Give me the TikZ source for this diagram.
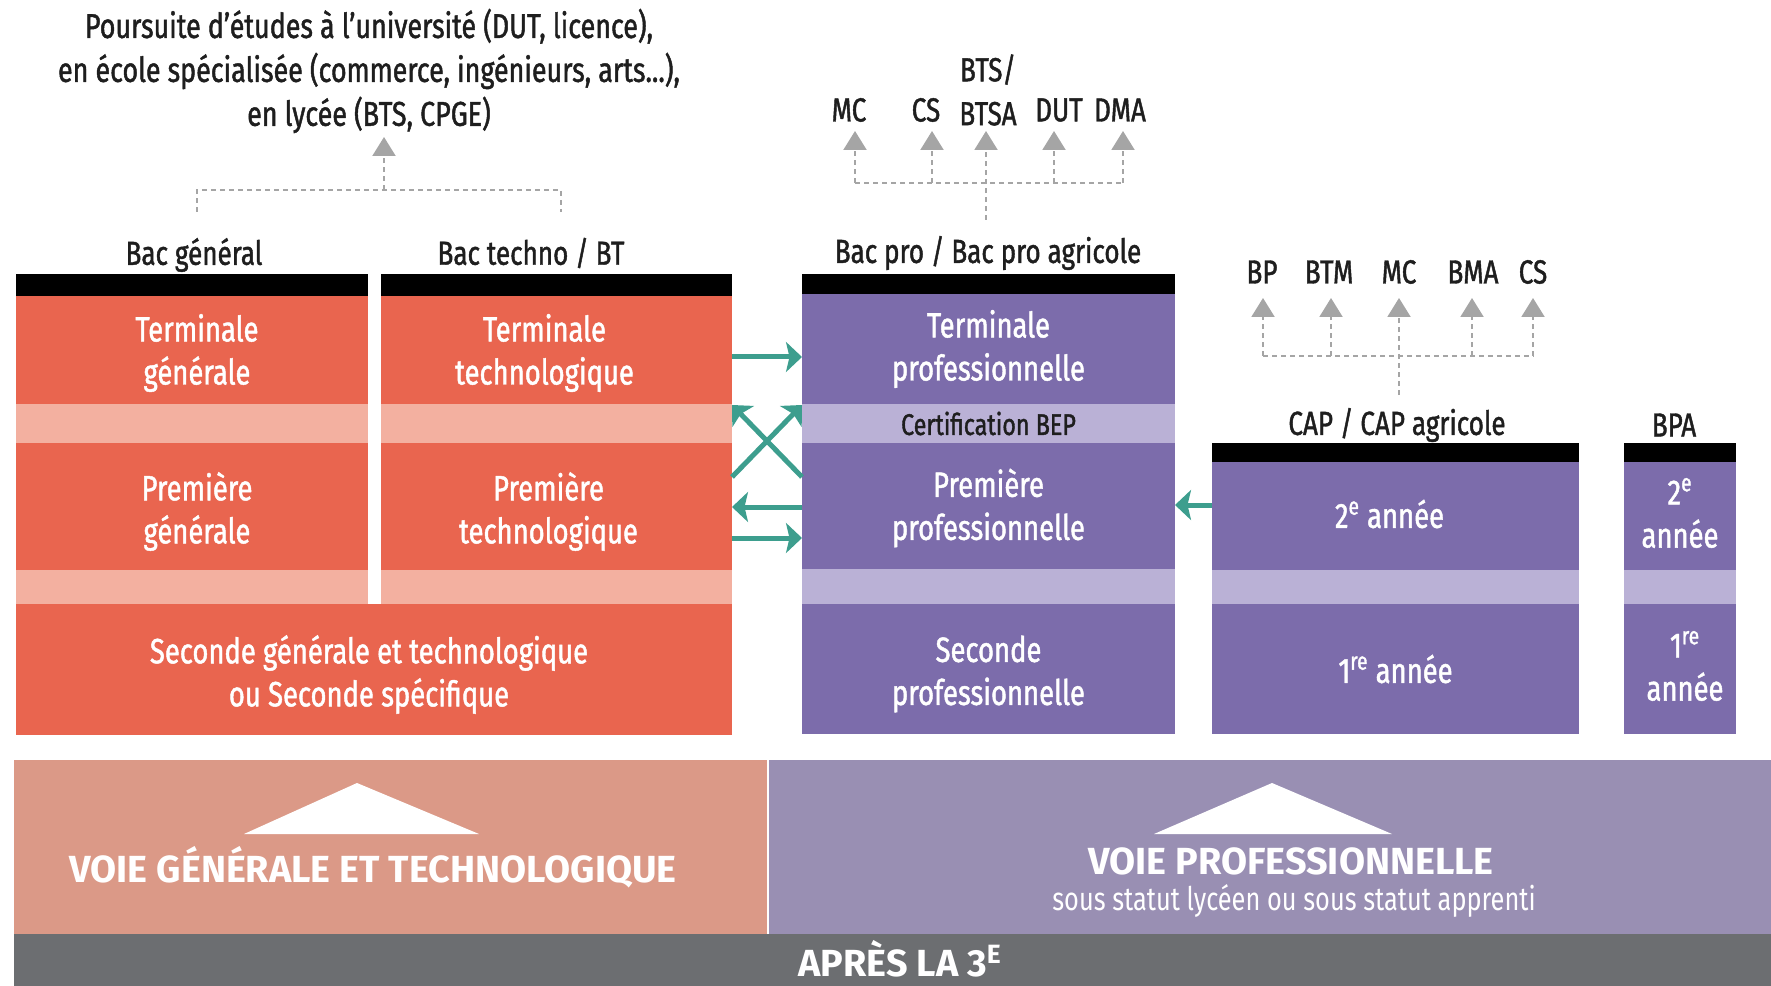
\documentclass[tikz,border=0pt]{standalone}
\usepackage{fontspec}
\setmainfont{Fira Sans}[FakeStretch=0.78]
\newfontfamily\medfont{Fira Sans}[FakeStretch=0.78,FakeBold=1.3]
\newfontfamily\capsfont{Fira Sans}
\usetikzlibrary{arrows.meta,fit,calc}
\definecolor{redA}{RGB}{233,101,79}
\definecolor{redL}{RGB}{243,176,160}
\definecolor{purA}{RGB}{124,108,171}
\definecolor{purL}{RGB}{186,177,214}
\definecolor{botR}{RGB}{219,153,135}
\definecolor{botP}{RGB}{153,143,179}
\definecolor{botG}{RGB}{108,110,113}
\definecolor{teal}{RGB}{61,158,142}
\definecolor{gdash}{RGB}{165,165,165}
\definecolor{ink}{RGB}{30,30,30}
\tikzset{
  box/.style={inner sep=0pt, outer sep=0pt, draw=none},
  txt/.style={inner sep=0pt, align=center, text=white,
    font=\medfont\fontsize{20}{24.5}\selectfont},
  bar/.style={inner sep=0pt, outer sep=0pt, draw=none, fill=black},
  lab/.style={inner sep=0pt, text=ink, align=center, font=\medfont\fontsize{19}{25}\selectfont},
  tree/.style={draw=gdash, line width=1.2pt, dash pattern=on 0.1cm off 0.08cm},
  treearr/.style={tree, -{Triangle[width=0.46cm,length=0.38cm]}},
  tarr/.style={draw=teal, line width=0.1cm, -{Stealth[width=0.6cm,length=0.32cm,inset=0.07cm]}},
  capst/.style={text=white, font=\capsfont\bfseries\fontsize{21.5}{24}\selectfont},
}
\begin{document}
\begin{tikzpicture}[x=0.02cm,y=-0.02cm]
\useasboundingbox (0,0) rectangle (1771,986);

% ---------- general / techno columns ----------
\node[bar, fit={(16,274) (368,296)}] (barG) {};
\node[bar, fit={(381,274) (732,296)}] (barT) {};
\node[box, fill=redA, fit={(16,296) (368,404)}] (tg) {};
\node[box, fill=redA, fit={(381,296) (732,404)}] (tt) {};
\node[box, fill=redL, fit={(16,404) (368,443)}] (sg1) {};
\node[box, fill=redL, fit={(381,404) (732,443)}] (st1) {};
\node[box, fill=redA, fit={(16,443) (368,570)}] (pg) {};
\node[box, fill=redA, fit={(381,443) (732,570)}] (ptech) {};
\node[box, fill=redL, fit={(16,570) (368,604)}] (sg2) {};
\node[box, fill=redL, fit={(381,570) (732,604)}] (st2) {};
\node[box, fill=redA, fit={(16,604) (732,735)}] (sec) {};
\node[txt] (tgT) at ($(tg.center)+(5,3)$) {Terminale\\générale};
\node[txt] (ttT) at ($(tt.center)+(-12,3)$) {Terminale\\technologique};
\node[txt] (pgT) at ($(pg.center)+(5,5)$) {Première\\générale};
\node[txt] (ptT) at ($(ptech.center)+(-8,5)$) {Première\\technologique};
\node[txt] (secT) at ($(sec.center)+(-5,5)$) {Seconde générale et technologique\\ou Seconde spécifique};

% ---------- bac pro ----------
\node[bar, fit={(802,274) (1175,294)}] (barP) {};
\node[box, fill=purA, fit={(802,294) (1175,404)}] (tp) {};
\node[box, fill=purL, fit={(802,404) (1175,443)}] (bep) {};
\node[box, fill=purA, fit={(802,443) (1175,569)}] (pp) {};
\node[box, fill=purL, fit={(802,569) (1175,604)}] (sp2) {};
\node[box, fill=purA, fit={(802,604) (1175,734)}] (sp) {};
\node[txt] (tpT) at (tp.center) {Terminale\\professionnelle};
\node[txt, text=ink, font=\medfont\fontsize{17}{20}\selectfont] (bepT) at (bep.center) {Certification BEP};
\node[txt] (ppT) at ($(pp.center)+(0,2)$) {Première\\professionnelle};
\node[txt] (spT) at ($(sp.center)+(0,5)$) {Seconde\\professionnelle};

% ---------- CAP ----------
\node[bar, fit={(1212,443) (1579,462)}] (barC) {};
\node[box, fill=purA, fit={(1212,462) (1579,570)}] (c2) {};
\node[box, fill=purL, fit={(1212,570) (1579,604)}] (cs) {};
\node[box, fill=purA, fit={(1212,604) (1579,734)}] (c1) {};
\node[txt] (c2T) at ($(c2.center)+(-6,-2)$) {2\textsuperscript{e} année};
\node[txt] (c1T) at ($(c1.center)+(0,0)$) {1\textsuperscript{re} année};

% ---------- BPA ----------
\node[bar, fit={(1624,443) (1736,462)}] (barB) {};
\node[box, fill=purA, fit={(1624,462) (1736,570)}] (b2) {};
\node[box, fill=purL, fit={(1624,570) (1736,604)}] (bs) {};
\node[box, fill=purA, fit={(1624,604) (1736,734)}] (b1) {};
\node[txt] (b2T) at ($(b2.center)+(0,-3)$) {2\textsuperscript{e}\\année};
\node[txt] (b1T) at ($(b1.center)+(5,-3)$) {1\textsuperscript{re}\\année};

% ---------- labels ----------
\node[lab] (lG) at (194,255) {Bac général};
\node[lab] (lT) at (531,253) {Bac techno / BT};
\node[lab] (lP) at (988,253) {Bac pro / Bac pro agricole};
\node[lab] (lC) at (1397,425) {CAP / CAP agricole};
\node[lab] (lB) at (1674,425) {BPA};

\node[lab, font=\medfont\fontsize{19.6}{25}\selectfont] (pours) at (369,71) {Poursuite d’études à l’université (DUT, licence),\\en école spécialisée (commerce, ingénieurs, arts...),\\en lycée (BTS, CPGE)};

\node[lab] (o1) at (849,110) {MC};
\node[lab] (o2) at (926,110) {CS};
\node[lab] (o3) at (988,90) {BTS/\\BTSA};
\node[lab] (o4) at (1059,110) {DUT};
\node[lab] (o5) at (1120,110) {DMA};

\node[lab] (q1) at (1262,272) {BP};
\node[lab] (q2) at (1329,272) {BTM};
\node[lab] (q3) at (1399,272) {MC};
\node[lab] (q4) at (1473,272) {BMA};
\node[lab] (q5) at (1533,272) {CS};

% ---------- grey dashed trees ----------
\draw[tree] (197,212) -- (197,190) -- (561,190) -- (561,212);
\draw[treearr] (384,190) -- (384,137);

\draw[tree] (855,183) -- (1123,183);
\foreach \x in {855,932,1054,1123} \draw[treearr] (\x,183) -- (\x,131);
\draw[treearr] (986,220) -- (986,131);

\draw[tree] (1263,356) -- (1533,356);
\foreach \x in {1263,1331,1472,1533} \draw[treearr] (\x,356) -- (\x,298);
\draw[treearr] (1399,395) -- (1399,298);

% ---------- teal arrows ----------
\draw[tarr] (tt.east |- 0,357) -- (tp.west |- 0,357);
\draw[tarr] (ptech.east |- 0,477) -- (tp.west |- 0,405);
\draw[tarr] (pp.west |- 0,477) -- (tt.east |- 0,405);
\draw[tarr] (pp.west |- 0,507) -- (ptech.east |- 0,507);
\draw[tarr] (ptech.east |- 0,538) -- (pp.west |- 0,538);
\draw[tarr] (c2.west |- 0,505) -- (pp.east |- 0,505);

% ---------- bottom band ----------
\node[box, fill=botR, fit={(14,760) (767,934)}] (vg) {};
\node[box, fill=botP, fit={(769,760) (1771,934)}] (vp) {};
\node[box, fill=botG, fit={(14,934) (1771,986)}] (ap) {};
\fill[white] (357,783) -- (479,834) -- (244,834) -- cycle;
\fill[white] (1272,783) -- (1392,834) -- (1154,834) -- cycle;
\node[capst] (tvg) at (373,867) {VOIE GÉNÉRALE ET TECHNOLOGIQUE};
\node[capst] (tvp) at (1291,861) {VOIE PROFESSIONNELLE};
\node[text=white, font=\fontsize{18.5}{20}\selectfont] (tss) at (1294,901) {sous statut lycéen ou sous statut apprenti};
\node[capst] (tap) at (900,959) {APRÈS LA 3\textsuperscript{E}};
\end{tikzpicture}
\end{document}
